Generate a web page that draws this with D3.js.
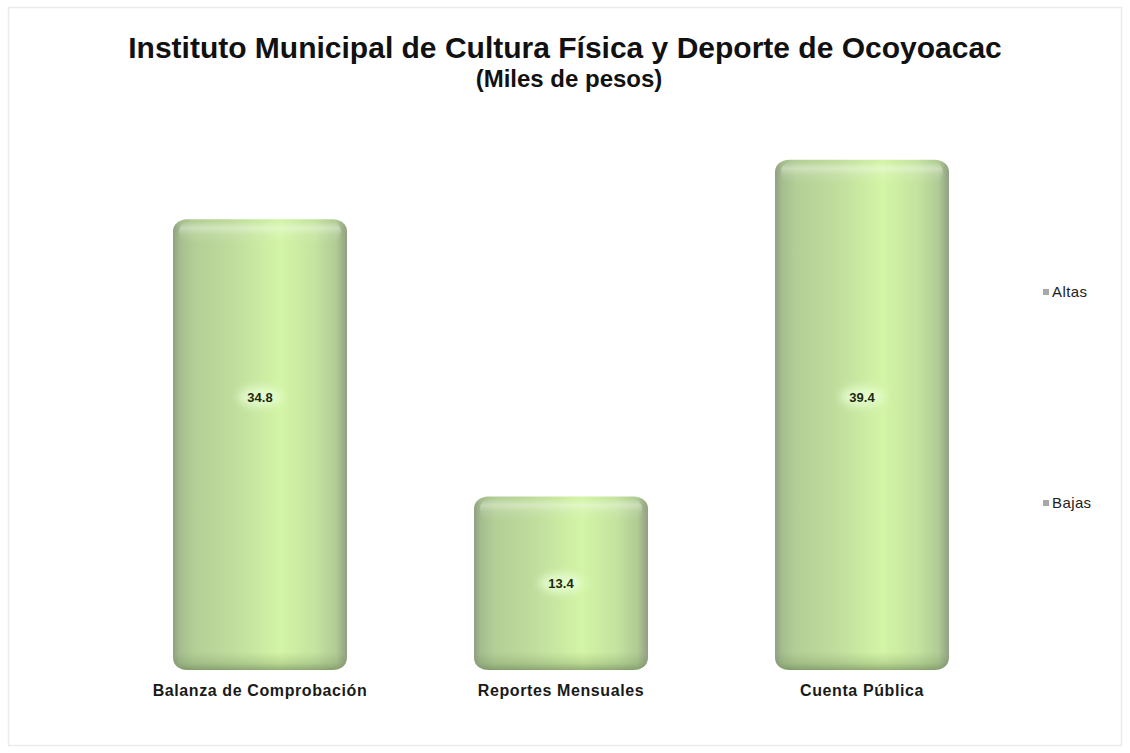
<!DOCTYPE html>
<html><head><meta charset="utf-8">
<script src="https://cdn.jsdelivr.net/npm/d3@7"></script>
<style>body{margin:0;background:#fff}svg{display:block}</style>
</head><body>
<svg id="c" width="1130" height="753"></svg>
<script>
const categories = ["Balanza de Comprobación", "Reportes Mensuales", "Cuenta Pública"];
const altas = [34.8, 13.4, 39.4];
const legendLabels = ["Altas", "Bajas"];
const titleText = "Instituto Municipal de Cultura Física y Deporte de Ocoyoacac";
const subtitleText = "(Miles de pesos)";
const labelMid = 21.1; // tall bars: label sits at this value; short bars: at half height

const svg = d3.select("#c");
const defs = svg.append("defs");
const FONT = "Liberation Sans, Arial, sans-serif";

// border
svg.append("rect").attr("x", 8.5).attr("y", 7.5).attr("width", 1113).attr("height", 738)
  .attr("fill", "#fff").attr("stroke", "#ebebeb").attr("stroke-width", 1.5);

const x = d3.scaleBand().domain(categories).range([109.5, 1012.5])
  .paddingInner(0.422).paddingOuter(0.211);
const y = d3.scaleLinear().domain([0, 40]).range([670, 152]);

// gradients
const hg = defs.append("linearGradient").attr("id", "hg").attr("x1", 0).attr("x2", 1).attr("y1", 0).attr("y2", 0);
[[0, "#909f82"], [0.04, "#a5bd8e"], [0.12, "#b3cf96"], [0.35, "#c0dd9d"], [0.62, "#d3f5a6"], [0.82, "#c4e39f"], [0.94, "#b0cb94"], [1, "#909f82"]]
  .forEach(([o, c]) => hg.append("stop").attr("offset", o).attr("stop-color", c));

const tg = defs.append("linearGradient").attr("id", "tg").attr("x1", 0).attr("x2", 0).attr("y1", 0).attr("y2", 1);
[[0, 0.0], [0.3, 0.35], [0.6, 0.1], [1, 0]]
  .forEach(([o, a]) => tg.append("stop").attr("offset", o).attr("stop-color", "#ffffff").attr("stop-opacity", a));

const bg = defs.append("linearGradient").attr("id", "bg").attr("x1", 0).attr("x2", 0).attr("y1", 0).attr("y2", 1);
[[0, "#6f8a5a", 0], [0.6, "#6f8a5a", 0.25], [1, "#5d744b", 0.55]]
  .forEach(([o, c, a]) => bg.append("stop").attr("offset", o).attr("stop-color", c).attr("stop-opacity", a));

const glow = defs.append("filter").attr("id", "glow").attr("x", "-50%").attr("y", "-50%").attr("width", "200%").attr("height", "200%");
glow.append("feGaussianBlur").attr("stdDeviation", 4);

const bars = svg.append("g").selectAll("g").data(categories).join("g");
bars.each(function(c, i) {
  const g = d3.select(this);
  const x0 = x(c), w = x.bandwidth(), top = y(altas[i]), bot = y(0);
  g.append("rect").attr("x", x0).attr("y", top).attr("width", w).attr("height", bot - top)
    .attr("rx", 14).attr("ry", 12).attr("fill", "url(#hg)");
  g.append("rect").attr("x", x0 + 6).attr("y", top + 2).attr("width", w - 12).attr("height", 22)
    .attr("rx", 10).attr("fill", "url(#tg)");
  g.append("rect").attr("x", x0 + 1).attr("y", bot - 18).attr("width", w - 2).attr("height", 18)
    .attr("rx", 14).attr("ry", 10).attr("fill", "url(#bg)");
  const lv = altas[i] > labelMid ? labelMid : altas[i] / 2;
  const ly = y(lv);
  g.append("ellipse").attr("cx", x0 + w / 2).attr("cy", ly).attr("rx", 22).attr("ry", 10)
    .attr("fill", "#eaffd6").attr("opacity", 0.8).attr("filter", "url(#glow)");
  g.append("text").attr("x", x0 + w / 2).attr("y", ly + 5).attr("text-anchor", "middle")
    .attr("font-family", FONT).attr("font-weight", "bold")
    .attr("font-size", 13).attr("fill", "#1d2a12").text(altas[i].toFixed(1));
});

// category axis labels
const xAxis = d3.axisBottom(x).tickSize(0).tickPadding(0);
const ax = svg.append("g").attr("transform", "translate(0,685)").call(xAxis);
ax.select(".domain").remove();
ax.selectAll("text").attr("font-family", FONT).attr("font-size", 16)
  .attr("font-weight", "bold").attr("fill", "#1a1a1a").attr("letter-spacing", 0.6).attr("dy", "0.71em");

// title
svg.append("text").attr("x", 565).attr("y", 58).attr("text-anchor", "middle")
  .attr("font-family", FONT).attr("font-weight", "bold")
  .attr("font-size", 30).attr("fill", "#111").text(titleText);
svg.append("text").attr("x", 569).attr("y", 87).attr("text-anchor", "middle")
  .attr("font-family", FONT).attr("font-weight", "bold")
  .attr("font-size", 24).attr("fill", "#111").text(subtitleText);

// legend
const lyS = d3.scalePoint().domain(legendLabels).range([292, 503]);
const lg = svg.append("g").selectAll("g").data(legendLabels).join("g")
  .attr("transform", d => `translate(1043,${lyS(d)})`);
lg.append("rect").attr("x", 0).attr("y", -3).attr("width", 6).attr("height", 6).attr("fill", "#a8a8a8");
lg.append("text").attr("x", 9).attr("y", 5).attr("font-family", FONT)
  .attr("font-size", 15).attr("letter-spacing", 0.4).attr("fill", "#222").text(d => d);
</script>
</body></html>
